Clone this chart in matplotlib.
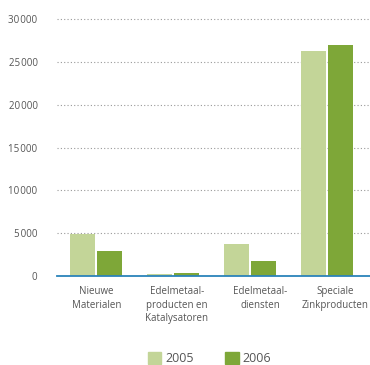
import numpy as np
import matplotlib
matplotlib.use("Agg")
import matplotlib.pyplot as plt
from matplotlib.patches import Patch

plt.rcParams['font.family'] = ['Open Sans', 'DejaVu Sans']

categories = ["Nieuwe\nMaterialen", "Edelmetaal-\nproducten en\nKatalysatoren",
              "Edelmetaal-\ndiensten", "Speciale\nZinkproducten"]
v2005 = [4870, 230, 3730, 26260]
v2006 = [2920, 350, 1750, 26960]
yticks = [0, 5000, 10000, 15000, 20000, 25000, 30000]

light = '#c3d598'
dark = '#7ea738'
txt = '#555555'

fig = plt.figure(figsize=(3.7, 3.65), dpi=100)
ax = fig.add_axes([0.154, 0.2438, 0.846, 0.7178])

x = np.arange(len(categories))
w = 0.325
ax.bar(x - 0.175, v2005, w, color=light, zorder=3)
ax.bar(x + 0.175, v2006, w, color=dark, zorder=3)

ax.set_xlim(-0.51, 3.56)
ax.set_ylim(0, 30600)
ax.set_yticks(yticks)
ax.set_yticklabels([f"{v:,}".replace(",", "\u200a") for v in yticks], color=txt, fontsize=7)
# labels in the original sit a little right of the bar groups
ax.set_xticks(x + np.array([0.0, 0.05, 0.13, 0.11]))
ax.set_xticklabels(categories, color=txt, fontsize=7, linespacing=1.35)
ax.tick_params(axis='both', length=0)
ax.tick_params(axis='y', pad=14)
ax.tick_params(axis='x', pad=7)

for v in yticks[1:]:
    ax.axhline(v, color='#999999', linestyle=(0, (1, 2)), linewidth=0.8, zorder=1, clip_on=False)

for s in ['top', 'right', 'left']:
    ax.spines[s].set_visible(False)
ax.spines['bottom'].set_color('#2b83ba')
ax.spines['bottom'].set_linewidth(1.3)
ax.spines['bottom'].set_zorder(4)

handles = [Patch(color=light, label='2005'), Patch(color=dark, label='2006')]
leg = fig.legend(handles=handles, ncol=2, loc='center', bbox_to_anchor=(0.566, 0.017),
                 frameon=False, fontsize=9, handlelength=1.1, handleheight=1.0,
                 handletextpad=0.3, columnspacing=2.5, labelcolor=txt)

fig.savefig("out.png", dpi=100)
